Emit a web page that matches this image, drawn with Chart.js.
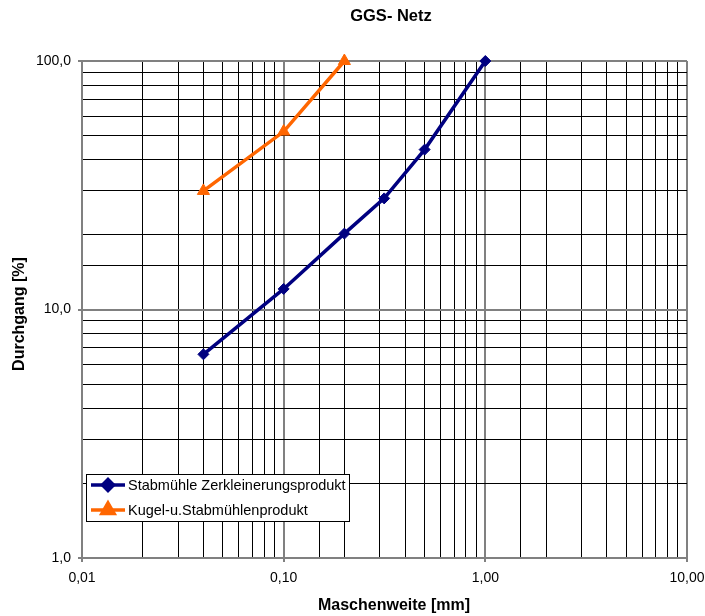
<!DOCTYPE html>
<html>
<head>
<meta charset="utf-8">
<script src="https://cdn.jsdelivr.net/npm/chart.js@4"></script>
<style>
html,body{margin:0;padding:0;background:#fff;}
#wrap{width:705px;height:616px;position:relative;}
</style>
</head>
<body>
<div id="wrap"><canvas id="c" width="705" height="616"></canvas></div>
<script>
// ---- data ----
const seriesNames = ['Stabmühle Zerkleinerungsprodukt', 'Kugel-u.Stabmühlenprodukt'];
const sieveStab = [0.04, 0.1, 0.2, 0.315, 0.5, 1.0];
const passStab  = [6.6, 12.1, 20.2, 28, 44, 100];
const sieveKugel = [0.04, 0.1, 0.2];
const passKugel  = [30, 52, 100];
const xRange = [0.01, 10];
const yRange = [1, 100];
const chartTitle = 'GGS- Netz';
const xTitle = 'Maschenweite [mm]';
const yTitle = 'Durchgang [%]';

const FONT = "'Liberation Sans', Arial, sans-serif";
const isDecade = v => Math.abs(Math.log10(v) - Math.round(Math.log10(v))) < 1e-6;
const fmt = (v, d) => v.toFixed(d).replace('.', ',');

const toPts = (xs, ys) => xs.map((x, i) => ({x: x, y: ys[i]}));

const blue = '#000080';
const orange = '#FF6600';

const decorPlugin = {
  id: 'decor',
  afterDraw(chart) {
    const ctx = chart.ctx;
    const a = chart.chartArea;
    ctx.save();
    ctx.fillStyle = '#000';
    ctx.textAlign = 'center';
    ctx.textBaseline = 'middle';
    // title
    ctx.font = 'bold 16.5px ' + FONT;
    ctx.fillText(chartTitle, 391, 16);
    // x title
    ctx.font = 'bold 16px ' + FONT;
    ctx.fillText(xTitle, 394, 606);
    // y title
    ctx.save();
    ctx.translate(20, 314);
    ctx.rotate(-Math.PI / 2);
    ctx.fillText(yTitle, 0, 0);
    ctx.restore();

    // legend
    const lx = a.left + 4, ly = a.bottom - 84, lw = 263, lh = 47;
    ctx.fillStyle = '#fff';
    ctx.fillRect(lx, ly, lw, lh);
    ctx.strokeStyle = '#000';
    ctx.lineWidth = 1;
    ctx.strokeRect(lx + 0.5, ly + 0.5, lw, lh);
    const items = [
      {name: seriesNames[0], color: blue, style: 'rectRot', r: 5.5},
      {name: seriesNames[1], color: orange, style: 'triangle', r: 7}
    ];
    items.forEach((it, i) => {
      const cy = ly + 11 + i * 25;
      ctx.strokeStyle = it.color;
      ctx.lineWidth = 3.5;
      ctx.beginPath();
      ctx.moveTo(lx + 5, cy);
      ctx.lineTo(lx + 39, cy);
      ctx.stroke();
      ctx.fillStyle = it.color;
      Chart.helpers.drawPoint(ctx, {pointStyle: it.style, radius: it.r, borderWidth: 1}, lx + 22, cy);
      ctx.fillStyle = '#000';
      ctx.textAlign = 'left';
      ctx.font = '14.5px ' + FONT;
      ctx.fillText(it.name, lx + 42, cy + 1);
    });
    ctx.restore();
  }
};

const gridColor = ctx => (ctx.tick && isDecade(ctx.tick.value)) ? '#808080' : '#000000';
const gridWidth = ctx => (ctx.tick && isDecade(ctx.tick.value)) ? 2 : 1;
const tickCol = ctx => (ctx.tick && isDecade(ctx.tick.value)) ? '#808080' : 'rgba(0,0,0,0)';

new Chart(document.getElementById('c'), {
  type: 'scatter',
  data: {
    datasets: [
      {
        label: seriesNames[0],
        data: toPts(sieveStab, passStab),
        showLine: true,
        borderColor: blue,
        backgroundColor: blue,
        borderWidth: 3.5,
        pointStyle: 'rectRot',
        pointRadius: 5.5,
        pointBorderWidth: 1,
        clip: false
      },
      {
        label: seriesNames[1],
        data: toPts(sieveKugel, passKugel),
        showLine: true,
        borderColor: orange,
        backgroundColor: orange,
        borderWidth: 3.5,
        pointStyle: 'triangle',
        pointRadius: 7,
        pointBorderWidth: 1,
        clip: false
      }
    ]
  },
  options: {
    responsive: false,
    animation: false,
    layout: {padding: {left: 0, right: 18, top: 61, bottom: 0}},
    plugins: {
      legend: {display: false},
      title: {display: false},
      tooltip: {enabled: false}
    },
    scales: {
      x: {
        type: 'logarithmic',
        min: xRange[0],
        max: xRange[1],
        afterFit: s => { s.height = 58; s.paddingLeft = 0; s.paddingRight = 0; },
        border: {display: true, color: '#808080', width: 2},
        grid: {color: gridColor, lineWidth: gridWidth, tickColor: tickCol, tickLength: 4, drawTicks: true},
        ticks: {
          autoSkip: false,
          maxRotation: 0,
          padding: 8,
          color: '#000',
          font: {family: FONT, size: 14},
          callback: v => isDecade(v) ? fmt(v, 2) : ''
        }
      },
      y: {
        type: 'logarithmic',
        min: yRange[0],
        max: yRange[1],
        afterFit: s => { s.width = 82; s.paddingTop = 0; s.paddingBottom = 0; },
        border: {display: true, color: '#808080', width: 2},
        grid: {color: gridColor, lineWidth: gridWidth, tickColor: tickCol, tickLength: 4, drawTicks: true},
        ticks: {
          autoSkip: false,
          padding: 7,
          color: '#000',
          font: {family: FONT, size: 14},
          callback: v => isDecade(v) ? fmt(v, 1) : ''
        }
      }
    }
  },
  plugins: [decorPlugin]
});
</script>
</body>
</html>
